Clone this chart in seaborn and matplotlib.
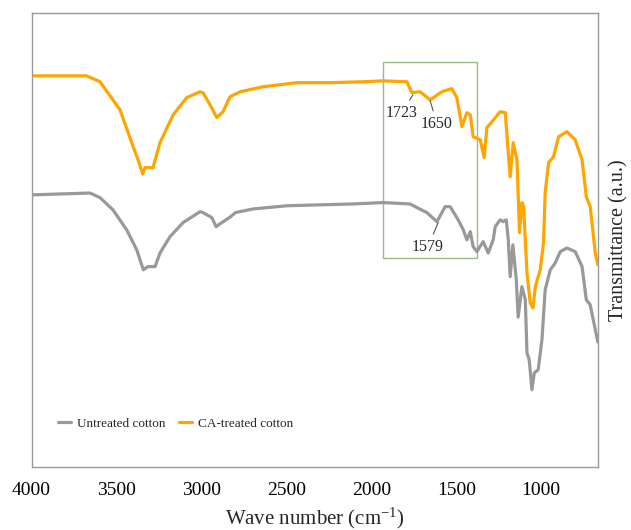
import numpy as np
import pandas as pd
import matplotlib
matplotlib.use("Agg")
import matplotlib.pyplot as plt
import seaborn as sns
from matplotlib.patches import Rectangle

# FTIR spectra (wavenumber in cm-1, transmittance in a.u.)
wn_treated = [3999, 3676, 3597, 3479, 3411, 3373, 3346, 3332, 3315, 3285, 3244, 3167, 3087,
              3008, 2991, 2949, 2910, 2873, 2832, 2773, 2637, 2439, 2243, 2048, 1931, 1791,
              1762, 1713, 1654, 1585, 1526, 1497, 1467, 1438, 1418, 1401, 1359, 1336, 1320,
              1290, 1242, 1212, 1183, 1165, 1143, 1128, 1114, 1104, 1084, 1065, 1049, 1035,
              1006, 987, 977, 957, 928, 898, 849, 800, 760, 735, 712, 682, 667]
tr_treated = [86.1, 86.1, 84.8, 78.6, 71.4, 67.6, 64.5, 65.9, 65.9, 65.9, 71.4, 77.5, 81.3,
              82.6, 82.4, 79.7, 76.9, 78.2, 81.5, 82.6, 83.7, 84.6, 84.6, 84.8, 85.0, 84.8,
              82.4, 82.6, 80.8, 82.6, 83.3, 81.3, 74.9, 78.0, 77.5, 72.7, 72.0, 68.1, 74.7,
              76.0, 78.2, 78.0, 63.9, 71.4, 67.6, 51.6, 58.2, 57.3, 42.7, 36.1, 35.0, 39.7,
              43.4, 49.3, 60.4, 67.0, 68.3, 72.7, 73.8, 72.0, 67.6, 59.5, 57.3, 47.1, 44.5]

wn_untreated = [3999, 3656, 3597, 3521, 3440, 3381, 3342, 3315, 3273, 3244, 3185, 3108, 3008,
                2991, 2939, 2914, 2880, 2832, 2800, 2696, 2498, 2302, 2107, 1931, 1772, 1732,
                1673, 1614, 1566, 1536, 1489, 1459, 1438, 1418, 1401, 1379, 1342, 1312, 1283,
                1271, 1242, 1224, 1206, 1194, 1183, 1167, 1147, 1136, 1114, 1094, 1084, 1071,
                1055, 1041, 1018, 996, 977, 947, 918, 888, 849, 800, 760, 735, 712, 682, 667]
tr_untreated = [59.9, 60.3, 59.3, 56.6, 52.2, 47.8, 43.4, 44.1, 44.1, 47.1, 50.7, 53.8, 56.2,
                56.0, 54.9, 52.9, 53.8, 55.0, 56.0, 56.8, 57.5, 57.7, 57.9, 58.2, 57.9, 57.1,
                56.0, 54.0, 57.3, 57.3, 54.4, 52.2, 50.0, 51.8, 48.5, 47.4, 49.6, 47.1, 50.0,
                52.9, 54.4, 54.0, 54.4, 50.0, 41.9, 48.9, 41.2, 33.0, 39.7, 36.8, 25.1, 23.6,
                17.0, 20.7, 21.4, 28.0, 39.0, 43.4, 44.9, 47.4, 48.2, 47.4, 44.1, 36.8, 35.7,
                30.2, 27.5]

# band labels: (text, band position, label position)
peak_labels = ["1723", "1650", "1579"]
peak_xy = [(1756, 81.9), (1654, 80.6), (1607, 53.8)]
peak_text_xy = [(1820, 78.0), (1614, 75.6), (1666, 48.5)]

box_x = (1931, 1377)
box_y = (46.0, 89.2)

sns.set_style("white")
plt.rcParams["font.family"] = ["Liberation Serif", "DejaVu Serif"]
plt.rcParams["mathtext.fontset"] = "custom"
plt.rcParams["mathtext.rm"] = "Liberation Serif"
plt.rcParams["mathtext.it"] = "Liberation Serif:italic"

fig = plt.figure(figsize=(6.31, 5.30), dpi=100)
ax = fig.add_axes([0.050, 0.119, 0.898, 0.857])

sns.lineplot(x=wn_untreated, y=tr_untreated, color="#999999", linewidth=2.3,
             label="Untreated cotton", estimator=None, ax=ax)
sns.lineplot(x=wn_treated, y=tr_treated, color="#FFA500", linewidth=2.3,
             label="CA-treated cotton", estimator=None, ax=ax)

ax.add_patch(Rectangle((box_x[1], box_y[0]), box_x[0] - box_x[1], box_y[1] - box_y[0],
                       fill=False, edgecolor="#9bbb86", linewidth=1.0, zorder=1))

for txt, xy, xyt in zip(peak_labels, peak_xy, peak_text_xy):
    ax.annotate(txt, xy=xy, xytext=xyt, ha="center", va="center", fontsize=11.5,
                arrowprops=dict(arrowstyle="-", color="#555555", lw=0.8,
                                shrinkA=1, shrinkB=0))

ax.set_xlim(4000, 665)
ax.set_ylim(0, 100)
ax.set_xticks([4000, 3500, 3000, 2500, 2000, 1500, 1000])
ax.set_yticks([])
ax.tick_params(axis="x", direction="inout", length=6, width=0.8, colors="#333333",
               labelsize=14, pad=8)
ax.tick_params(axis="x", labelcolor="black")
for s in ax.spines.values():
    s.set_color("#999999")
    s.set_linewidth(1.0)

ax.set_xlabel("Wave number (cm$^{\\mathrm{-1}}$)", fontsize=15, labelpad=5)
ax.yaxis.set_label_position("right")
ax.set_ylabel("Transmittance (a.u.)", fontsize=14.5, labelpad=8)

ax.legend(loc="center left", bbox_to_anchor=(0.026, 0.095), ncol=2, frameon=False,
          fontsize=9.5, handlelength=1.0, handletextpad=0.45, columnspacing=1.0)

fig.savefig("out.png", dpi=100)
